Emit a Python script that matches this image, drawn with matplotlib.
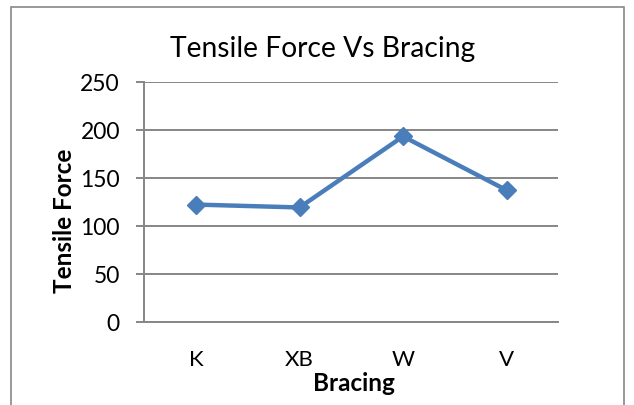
import matplotlib
matplotlib.use("Agg")
import matplotlib.pyplot as plt
from matplotlib.patches import Rectangle

categories = ["K", "XB", "W", "V"]
tensile_force = [122, 119, 193, 137]
y_ticks = [0, 50, 100, 150, 200, 250]

plt.rcParams['font.family'] = ['Lato', 'DejaVu Sans']

W, H = 634, 406
fig = plt.figure(figsize=(W / 100, H / 100), dpi=100)
ax = fig.add_axes([144.3 / W, 1 - 322.7 / H, (558.3 - 144.3) / W, (322.7 - 82.7) / H])

grid_c = "#868686"
x = list(range(len(categories)))
ax.plot(x, tensile_force, color="#4a7ebb", linewidth=3.2, marker="D",
        markersize=9.5, markerfacecolor="#4a7ebb", markeredgecolor="#4a7ebb",
        zorder=3)

ax.set_xlim(-0.5, len(categories) - 0.5)
ax.set_ylim(0, 250)
ax.set_yticks(y_ticks)
ax.set_xticks(x)
ax.set_xticklabels(categories)
ax.yaxis.grid(True, color=grid_c, linewidth=1.4)
ax.set_axisbelow(True)
for s in ["top", "right"]:
    ax.spines[s].set_visible(False)
for s in ["left", "bottom"]:
    ax.spines[s].set_color(grid_c)
    ax.spines[s].set_linewidth(1.4)
ax.tick_params(axis="y", length=5.5, width=1.4, color=grid_c, labelsize=16.5, pad=12)
ax.tick_params(axis="x", length=0, labelsize=16, pad=31.2)
for lbl in ax.get_xticklabels():
    lbl.set_va("baseline")

fig.text(323 / W, 1 - 56.7 / H, "Tensile Force Vs Bracing", fontsize=20.3,
         ha="center", va="baseline")
fig.text(354 / W, 1 - 391 / H, "Bracing", fontsize=17.5, fontweight="bold",
         ha="center", va="baseline")
fig.text(72 / W, 1 - 220.5 / H, "Tensile Force", fontsize=17.5, fontweight="bold",
         ha="center", va="baseline", rotation=90, rotation_mode="anchor")

fig.patches.append(Rectangle((11 / W, -0.1), (624 - 11) / W, 1.1 - 8 / H,
                             transform=fig.transFigure, fill=False,
                             edgecolor="#888888", linewidth=1.2))

fig.savefig("out.png", dpi=100)
